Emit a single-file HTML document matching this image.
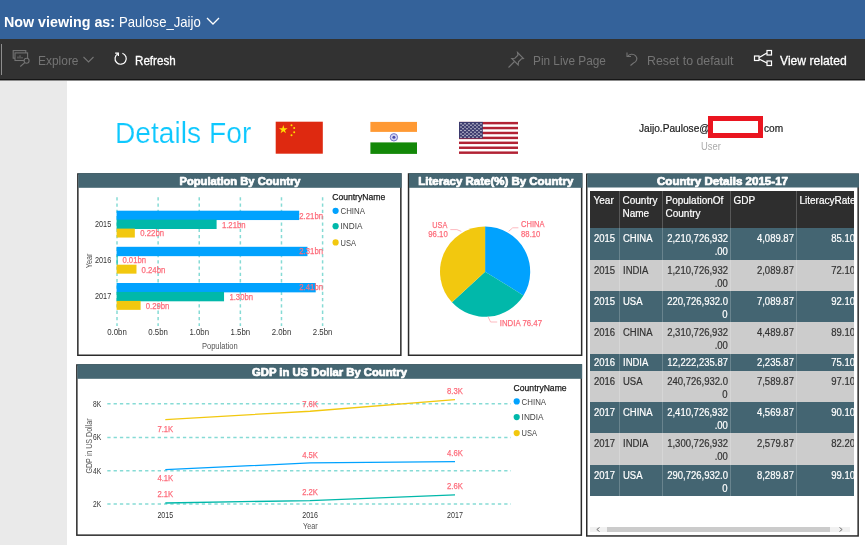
<!DOCTYPE html>
<html lang="en">
<head>
<meta charset="utf-8">
<title>Details For - Report</title>
<style>
*{box-sizing:border-box;margin:0;padding:0}
html,body{width:865px;height:545px;overflow:hidden;background:#fff;font-family:"Liberation Sans",sans-serif;}
.abs{position:absolute}
.sx{display:inline-block;transform-origin:0 50%;white-space:nowrap}
#top{left:0;top:0;width:865px;height:39px;background:#34629a;color:#fff}
#bar{left:0;top:39px;width:865px;height:42px;background:#323232;color:#fff;border-bottom:1px solid #8c8c8c;box-shadow:inset 0 -1px 0 #161616}
#side{left:0;top:81px;width:67px;height:464px;background:#eaeaea}
.tb{position:absolute;top:0;height:41px;line-height:43px;font-size:13.5px;white-space:nowrap;transform-origin:0 50%}
.dim{color:#747474}
svg text{font-family:"Liberation Sans",sans-serif}
table{border-collapse:collapse;position:absolute;left:590px;top:191px;font-size:10px;color:#fff;table-layout:fixed;width:264px;-webkit-text-stroke:.2px}
td,th{vertical-align:top;padding:3.5px 0 0 3.5px;line-height:13.4px;font-weight:normal;text-align:left;border:none;background-image:linear-gradient(rgba(255,255,255,.2),rgba(255,255,255,.2));background-size:1px 100%;background-repeat:no-repeat;overflow:hidden;white-space:nowrap}
td span,th span{display:inline-block;transform-origin:0 50%;transform:scaleX(.95)}
th span{transform:scaleX(1)}
td:first-child,th:first-child{background-image:none}
tr.h th{background-color:#2e2e2e;height:37px;padding-top:2.5px}
tr.d td{background-color:#446572;color:#fff}
tr.l td{background-color:#cccccc;color:#333}
td.r{text-align:right;padding:3.5px 2.5px 0 0}
td.r span{transform-origin:100% 50%}
td.e{padding-right:0}
td.e span{margin-right:-1px}
tr.s td{padding-top:2px}
</style>
</head>
<body>
<div id="top" class="abs">
 <div class="abs sx" style="left:4px;top:12.6px;font-size:14.2px;line-height:18px;font-weight:bold;transform:scaleX(1.006)">Now viewing as:</div>
 <div class="abs sx" style="left:119px;top:13px;font-size:14.2px;line-height:18px;transform:scaleX(.925)">Paulose_Jaijo</div>
 <svg class="abs" style="left:205px;top:15px" width="16" height="12" viewBox="0 0 16 12"><path d="M2 3 L8 9 L14 3" fill="none" stroke="#fff" stroke-width="1.3"/></svg>
</div>
<div id="bar" class="abs">
 <div class="abs" style="left:1px;top:5px;width:1px;height:31px;background:#8e8e8e"></div>
 <svg class="abs" style="left:10px;top:9px" width="20" height="20" viewBox="0 0 20 20" fill="none" stroke="#747474" stroke-width="1.1"><rect x="3.2" y="2.6" width="12.6" height="7.6"/><rect x="5" y="4.900" width="12.6" height="7.600" fill="#323232"/><path d="M8 10.500v-2M10 10.500v-3.200M12 10.500v-1.500" stroke-width="1"/><circle cx="16.600" cy="12.800" r="2.500" fill="#323232"/><path d="M14.800 14.700L10.300 18.500"/></svg>
 <div class="tb dim" style="left:38px;transform:scaleX(.885)">Explore</div>
 <svg class="abs" style="left:82px;top:16px" width="13" height="10" viewBox="0 0 13 10"><path d="M1.5 2 L6.5 7 L11.5 2" fill="none" stroke="#747474" stroke-width="1.1"/></svg>
 <svg class="abs" style="left:113px;top:12px" width="15" height="15" viewBox="0 0 16 16" fill="none" stroke="#fff" stroke-width="1.3"><path d="M5.2 2.9 A6 6 0 1 0 10 2.400"/><path d="M2.300 2.200 h3.400 v3.200"/></svg>
 <div class="tb" style="left:135px;transform:scaleX(.86);-webkit-text-stroke:.3px #fff">Refresh</div>
 <svg class="abs" style="left:507px;top:12px" width="18" height="18" viewBox="0 0 18 18" fill="none" stroke="#747474" stroke-width="1.1"><path d="M10.500 1.500l6 6-2 .3-3 3-.3 3.200-6.500-6.500 3.200-.3 3-3z"/><path d="M7.500 10.500l-6 6"/></svg>
 <div class="tb dim" style="left:532.5px;transform:scaleX(.875)">Pin Live Page</div>
 <svg class="abs" style="left:625px;top:12px" width="14" height="16" viewBox="0 0 14 16" fill="none" stroke="#747474" stroke-width="1.1"><path d="M2 1.500v4h4"/><path d="M2.500 5.500a5 4.500 0 1 1 6 6.500l-3 2.500"/></svg>
 <div class="tb dim" style="left:647px;transform:scaleX(.915)">Reset to default</div>
 <svg class="abs" style="left:753px;top:10px" width="20" height="20" viewBox="0 0 20 20" fill="none" stroke="#fff" stroke-width="1.2"><rect x="14" y="1.500" width="4.500" height="4.500"/><rect x="14" y="12" width="4.500" height="4.500"/><rect x="1.500" y="7" width="4.500" height="4.500"/><path d="M6 8.500l8-4.500M6 10l8 4"/></svg>
 <div class="tb" style="left:779.5px;transform:scaleX(.9);-webkit-text-stroke:.3px #fff">View related</div>
</div>
<div id="side" class="abs"></div>

<div class="abs sx" style="left:114.9px;top:115px;font-size:29px;line-height:36px;color:#0ec8fe;transform:scaleX(.972);-webkit-text-stroke:.2px #fff">Details For</div>

<!-- flags -->
<svg class="abs" style="left:275px;top:121px" width="49" height="34" viewBox="0 0 49 34"><rect x="0.7" y="0.7" width="47.1" height="32" fill="#de2910"/><polygon fill="#ffde00" points="8.30,4.00 9.33,7.18 12.67,7.18 9.97,9.14 11.00,12.32 8.30,10.36 5.60,12.32 6.63,9.14 3.93,7.18 7.27,7.18"/><g fill="#ffde00"><circle cx="16.5" cy="4.2" r="1"/><circle cx="19.2" cy="7" r="1"/><circle cx="19.2" cy="11.2" r="1"/><circle cx="16.500" cy="14.300" r="1"/></g></svg>
<svg class="abs" style="left:370px;top:121px" width="48" height="34" viewBox="0 0 48 34"><rect x="0.4" y="0.9" width="46.6" height="32" fill="#fff"/><rect x="0.4" y="0.9" width="46.6" height="10" fill="#ff9933"/><rect x="0.4" y="21.400" width="46.600" height="11.500" fill="#138808"/><circle cx="23.900" cy="16.300" r="3.700" fill="#d5d6f2" stroke="#6a6cc4" stroke-width="0.9"/><circle cx="23.900" cy="16.300" r="1.500" fill="#4a4cae"/></svg>
<svg class="abs" style="left:459px;top:121px" width="60" height="34" viewBox="0 0 60 34"><g transform="translate(0,0.9)"><rect width="59" height="32" fill="#fff"/><g fill="#b22234"><rect y="0" width="59" height="2.460"/><rect y="4.920" width="59" height="2.460"/><rect y="9.850" width="59" height="2.460"/><rect y="14.770" width="59" height="2.460"/><rect y="19.690" width="59" height="2.460"/><rect y="24.620" width="59" height="2.460"/><rect y="29.540" width="59" height="2.460"/></g><rect width="23.800" height="16.600" fill="#3c3b6e"/><g fill="#fff" opacity=".85"><circle cx="2.0" cy="1.75" r="0.75"/><circle cx="6.0" cy="1.75" r="0.75"/><circle cx="10.0" cy="1.75" r="0.75"/><circle cx="14.0" cy="1.75" r="0.75"/><circle cx="18.0" cy="1.75" r="0.75"/><circle cx="22.0" cy="1.75" r="0.75"/><circle cx="4.0" cy="3.46" r="0.75"/><circle cx="8.0" cy="3.46" r="0.75"/><circle cx="12.0" cy="3.46" r="0.75"/><circle cx="16.0" cy="3.46" r="0.75"/><circle cx="20.0" cy="3.46" r="0.75"/><circle cx="2.0" cy="5.17" r="0.75"/><circle cx="6.0" cy="5.17" r="0.75"/><circle cx="10.0" cy="5.17" r="0.75"/><circle cx="14.0" cy="5.17" r="0.75"/><circle cx="18.0" cy="5.17" r="0.75"/><circle cx="22.0" cy="5.17" r="0.75"/><circle cx="4.0" cy="6.88" r="0.75"/><circle cx="8.0" cy="6.88" r="0.75"/><circle cx="12.0" cy="6.88" r="0.75"/><circle cx="16.0" cy="6.88" r="0.75"/><circle cx="20.0" cy="6.88" r="0.75"/><circle cx="2.0" cy="8.59" r="0.75"/><circle cx="6.0" cy="8.59" r="0.75"/><circle cx="10.0" cy="8.59" r="0.75"/><circle cx="14.0" cy="8.59" r="0.75"/><circle cx="18.0" cy="8.59" r="0.75"/><circle cx="22.0" cy="8.59" r="0.75"/><circle cx="4.0" cy="10.30" r="0.75"/><circle cx="8.0" cy="10.30" r="0.75"/><circle cx="12.0" cy="10.30" r="0.75"/><circle cx="16.0" cy="10.30" r="0.75"/><circle cx="20.0" cy="10.30" r="0.75"/><circle cx="2.0" cy="12.01" r="0.75"/><circle cx="6.0" cy="12.01" r="0.75"/><circle cx="10.0" cy="12.01" r="0.75"/><circle cx="14.0" cy="12.01" r="0.75"/><circle cx="18.0" cy="12.01" r="0.75"/><circle cx="22.0" cy="12.01" r="0.75"/><circle cx="4.0" cy="13.72" r="0.75"/><circle cx="8.0" cy="13.72" r="0.75"/><circle cx="12.0" cy="13.72" r="0.75"/><circle cx="16.0" cy="13.72" r="0.75"/><circle cx="20.0" cy="13.72" r="0.75"/><circle cx="2.0" cy="15.43" r="0.75"/><circle cx="6.0" cy="15.43" r="0.75"/><circle cx="10.0" cy="15.43" r="0.75"/><circle cx="14.0" cy="15.43" r="0.75"/><circle cx="18.0" cy="15.43" r="0.75"/><circle cx="22.0" cy="15.43" r="0.75"/></g></g></svg>

<div class="abs sx" style="left:638.5px;top:120.5px;font-size:10.5px;line-height:14px;color:#1a1a1a;-webkit-text-stroke:.2px #1a1a1a;transform:scaleX(.965)">Jaijo.Paulose@</div>
<div class="abs sx" style="left:763.8px;top:120.5px;font-size:10.5px;line-height:14px;color:#1a1a1a;-webkit-text-stroke:.2px #1a1a1a;transform:scaleX(.965)">com</div>
<div class="abs" style="left:708px;top:116px;width:55px;height:22px;border:5px solid #ea1520;background:#fff"></div>
<div class="abs sx" style="left:701px;top:140px;font-size:10px;line-height:14px;color:#aaa;transform:scaleX(.94)">User</div>

<svg class="abs" style="left:0;top:0" width="865" height="545" viewBox="0 0 865 545">
<g>
<rect x="77.85" y="173.95" width="323" height="181.3" fill="#fff" stroke="#2b2b2b" stroke-width="1.5"/>
<rect x="78.3" y="173.2" width="323.3" height="14.6" fill="#456672"/>
<text x="240" y="184.9" font-size="10.2" font-weight="bold" fill="#fff" stroke="#fff" stroke-width="0.7" stroke-linejoin="round" text-anchor="middle" textLength="121" lengthAdjust="spacingAndGlyphs">Population By Country</text>
</g>
<g>
<rect x="408.55" y="173.95" width="173.1" height="181.3" fill="#fff" stroke="#2b2b2b" stroke-width="1.5"/>
<rect x="409" y="173.2" width="173.4" height="14.6" fill="#456672"/>
<text x="495.8" y="184.9" font-size="10.2" font-weight="bold" fill="#fff" stroke="#fff" stroke-width="0.7" stroke-linejoin="round" text-anchor="middle" textLength="155" lengthAdjust="spacingAndGlyphs">Literacy Rate(%) By Country</text>
</g>
<g>
<rect x="586.75" y="174.25" width="271.4" height="361.7" fill="#fff" stroke="#2b2b2b" stroke-width="1.5"/>
<rect x="587.2" y="173.5" width="271.7" height="14" fill="#456672"/>
<text x="722.5" y="184.6" font-size="10.2" font-weight="bold" fill="#fff" stroke="#fff" stroke-width="0.7" stroke-linejoin="round" text-anchor="middle" textLength="131" lengthAdjust="spacingAndGlyphs">Country Details 2015-17</text>
</g>
<g>
<rect x="76.85" y="364.95" width="504.5" height="170.2" fill="#fff" stroke="#2b2b2b" stroke-width="1.5"/>
<rect x="77.3" y="364.2" width="504.8" height="14.6" fill="#456672"/>
<text x="329.5" y="375.9" font-size="10.2" font-weight="bold" fill="#fff" stroke="#fff" stroke-width="0.7" stroke-linejoin="round" text-anchor="middle" textLength="155" lengthAdjust="spacingAndGlyphs">GDP in US Dollar By Country</text>
</g>
<g stroke="#86dbd5" stroke-width="1.5" stroke-dasharray="3.3 3" fill="none"><path d="M117 197.2V326M158.12 197.2V326M199.24 197.2V326M240.36 197.2V326M281.48 197.2V326M322.6 197.2V326"/></g>
<g>
<rect x="116.6" y="210.7" width="182.6" height="9.35" fill="#01a2fe"/>
<rect x="116.6" y="219.65" width="100" height="9.35" fill="#01b8aa"/>
<rect x="116.6" y="228.6" width="18.23" height="8.95" fill="#f2c80f"/>
<rect x="116.6" y="246.8" width="190.86" height="9.35" fill="#01a2fe"/>
<rect x="116.6" y="255.75" width="1.01" height="9.35" fill="#01b8aa"/>
<rect x="116.6" y="264.7" width="19.88" height="8.95" fill="#f2c80f"/>
<rect x="116.6" y="283" width="199.12" height="9.35" fill="#01a2fe"/>
<rect x="116.6" y="291.95" width="107.44" height="9.35" fill="#01b8aa"/>
<rect x="116.6" y="300.9" width="24.01" height="8.95" fill="#f2c80f"/>
</g>
<g fill="#fd6b7a">
<text x="299.3" y="218.9" font-size="9.3" textLength="23.7" lengthAdjust="spacingAndGlyphs" stroke="#fd6b7a" stroke-width="0.25">2.21bn</text>
<text x="221.9" y="227.7" font-size="9.3" textLength="23.7" lengthAdjust="spacingAndGlyphs" stroke="#fd6b7a" stroke-width="0.25">1.21bn</text>
<text x="140.3" y="236.1" font-size="9.3" textLength="23.7" lengthAdjust="spacingAndGlyphs" stroke="#fd6b7a" stroke-width="0.25">0.22bn</text>
<text x="299.3" y="254.2" font-size="9.3" textLength="23.7" lengthAdjust="spacingAndGlyphs" stroke="#fd6b7a" stroke-width="0.25">2.31bn</text>
<text x="122.4" y="263.4" font-size="9.3" textLength="23.7" lengthAdjust="spacingAndGlyphs" stroke="#fd6b7a" stroke-width="0.25">0.01bn</text>
<text x="141.6" y="272.6" font-size="9.3" textLength="23.7" lengthAdjust="spacingAndGlyphs" stroke="#fd6b7a" stroke-width="0.25">0.24bn</text>
<text x="299.3" y="290.4" font-size="9.3" textLength="23.7" lengthAdjust="spacingAndGlyphs" stroke="#fd6b7a" stroke-width="0.25">2.41bn</text>
<text x="229.4" y="299.6" font-size="9.3" textLength="23.7" lengthAdjust="spacingAndGlyphs" stroke="#fd6b7a" stroke-width="0.25">1.30bn</text>
<text x="145.7" y="308.8" font-size="9.3" textLength="23.7" lengthAdjust="spacingAndGlyphs" stroke="#fd6b7a" stroke-width="0.25">0.29bn</text>
</g>
<g fill="#333">
<text x="111.2" y="227.1" font-size="8.3" text-anchor="end" textLength="16.2" lengthAdjust="spacingAndGlyphs">2015</text>
<text x="111.2" y="263" font-size="8.3" text-anchor="end" textLength="16.2" lengthAdjust="spacingAndGlyphs">2016</text>
<text x="111.2" y="299.1" font-size="8.3" text-anchor="end" textLength="16.2" lengthAdjust="spacingAndGlyphs">2017</text>
<text x="117" y="334.9" font-size="8.3" text-anchor="middle" textLength="19.6" lengthAdjust="spacingAndGlyphs">0.0bn</text>
<text x="158.12" y="334.9" font-size="8.3" text-anchor="middle" textLength="19.6" lengthAdjust="spacingAndGlyphs">0.5bn</text>
<text x="199.24" y="334.9" font-size="8.3" text-anchor="middle" textLength="19.6" lengthAdjust="spacingAndGlyphs">1.0bn</text>
<text x="240.36" y="334.9" font-size="8.3" text-anchor="middle" textLength="19.6" lengthAdjust="spacingAndGlyphs">1.5bn</text>
<text x="281.48" y="334.9" font-size="8.3" text-anchor="middle" textLength="19.6" lengthAdjust="spacingAndGlyphs">2.0bn</text>
<text x="322.6" y="334.9" font-size="8.3" text-anchor="middle" textLength="19.6" lengthAdjust="spacingAndGlyphs">2.5bn</text>
<text x="219.8" y="349" font-size="8.3" fill="#555" text-anchor="middle" textLength="35.8" lengthAdjust="spacingAndGlyphs">Population</text>
<text transform="translate(92,260.9) rotate(-90)" font-size="8.3" fill="#555" text-anchor="middle" textLength="14.6" lengthAdjust="spacingAndGlyphs">Year</text>
</g>
<g fill="#444">
<text x="332.2" y="200.1" font-size="9" fill="#1a1a1a" textLength="53" lengthAdjust="spacingAndGlyphs" stroke="#1a1a1a" stroke-width="0.25">CountryName</text>
<circle cx="335.6" cy="210.8" r="3.1" fill="#01a2fe"/>
<text x="340.5" y="213.9" font-size="8.8" textLength="24.5" lengthAdjust="spacingAndGlyphs">CHINA</text>
<circle cx="335.6" cy="226.2" r="3.1" fill="#01b8aa"/>
<text x="340.5" y="229.3" font-size="8.8" textLength="22" lengthAdjust="spacingAndGlyphs">INDIA</text>
<circle cx="335.6" cy="242.4" r="3.1" fill="#f2c80f"/>
<text x="340.5" y="245.5" font-size="8.8" textLength="15.4" lengthAdjust="spacingAndGlyphs">USA</text>
</g>
<g>
<path d="M485.1 271.7L485.1 226.6A45.1 45.1 0 0 1 523.48 295.38Z" fill="#01a2fe"/>
<path d="M485.1 271.7L523.48 295.38A45.1 45.1 0 0 1 451.97 302.3Z" fill="#01b8aa"/>
<path d="M485.1 271.7L451.97 302.3A45.1 45.1 0 0 1 485.1 226.6Z" fill="#f2c80f"/>
<path d="M508.6 231.4L512.7 227.8H518.4M461.3 231.4L456.9 229.6H450.3M488 316.6L490.6 322H497.2" fill="none" stroke="#fdb9bf" stroke-width="1"/>
</g>
<g fill="#fd6b7a" stroke="#fd6b7a" stroke-width="0.25">
<text x="521.1" y="227.3" font-size="9.2" textLength="23.5" lengthAdjust="spacingAndGlyphs">CHINA</text>
<text x="521.1" y="236.5" font-size="9.2" textLength="19.2" lengthAdjust="spacingAndGlyphs">88.10</text>
<text x="447.3" y="228" font-size="9.2" text-anchor="end" textLength="15" lengthAdjust="spacingAndGlyphs">USA</text>
<text x="447.7" y="237.2" font-size="9.2" text-anchor="end" textLength="19.4" lengthAdjust="spacingAndGlyphs">96.10</text>
<text x="499.8" y="326.4" font-size="9.2" textLength="42.2" lengthAdjust="spacingAndGlyphs">INDIA 76.47</text>
</g>
<g stroke="#86dbd5" stroke-width="1.5" stroke-dasharray="3.3 3" fill="none"><path d="M107.3 403.8H511M107.3 437.5H511M107.3 470.8H511M107.3 503.9H511"/></g>
<g fill="none" stroke-width="1.3" stroke-linejoin="round">
<path d="M165.3 419.58L310.1 411.23L455 399.55" stroke="#f2c80f"/>
<path d="M165.3 469.63L310.1 462.96L455 461.62" stroke="#01a2fe"/>
<path d="M165.3 503L310.1 500.56L455 494.82" stroke="#01b8aa"/>
</g>
<g fill="#fd6b7a" text-anchor="middle">
<text x="165.3" y="431.5" font-size="9.3" textLength="15.8" lengthAdjust="spacingAndGlyphs" stroke="#fd6b7a" stroke-width="0.25">7.1K</text>
<text x="310.1" y="406.7" font-size="9.3" textLength="15.8" lengthAdjust="spacingAndGlyphs" stroke="#fd6b7a" stroke-width="0.25">7.6K</text>
<text x="455" y="393.9" font-size="9.3" textLength="15.8" lengthAdjust="spacingAndGlyphs" stroke="#fd6b7a" stroke-width="0.25">8.3K</text>
<text x="165.3" y="480.9" font-size="9.3" textLength="15.8" lengthAdjust="spacingAndGlyphs" stroke="#fd6b7a" stroke-width="0.25">4.1K</text>
<text x="310.1" y="458.1" font-size="9.3" textLength="15.8" lengthAdjust="spacingAndGlyphs" stroke="#fd6b7a" stroke-width="0.25">4.5K</text>
<text x="455" y="456.2" font-size="9.3" textLength="15.8" lengthAdjust="spacingAndGlyphs" stroke="#fd6b7a" stroke-width="0.25">4.6K</text>
<text x="165.3" y="497.4" font-size="9.3" textLength="15.8" lengthAdjust="spacingAndGlyphs" stroke="#fd6b7a" stroke-width="0.25">2.1K</text>
<text x="310.1" y="495.3" font-size="9.3" textLength="15.8" lengthAdjust="spacingAndGlyphs" stroke="#fd6b7a" stroke-width="0.25">2.2K</text>
<text x="455" y="489" font-size="9.3" textLength="15.8" lengthAdjust="spacingAndGlyphs" stroke="#fd6b7a" stroke-width="0.25">2.6K</text>
</g>
<g fill="#333">
<text x="101.3" y="406.8" font-size="8.3" text-anchor="end" textLength="8.2" lengthAdjust="spacingAndGlyphs">8K</text>
<text x="101.3" y="440.2" font-size="8.3" text-anchor="end" textLength="8.2" lengthAdjust="spacingAndGlyphs">6K</text>
<text x="101.3" y="473.6" font-size="8.3" text-anchor="end" textLength="8.2" lengthAdjust="spacingAndGlyphs">4K</text>
<text x="101.3" y="506.9" font-size="8.3" text-anchor="end" textLength="8.2" lengthAdjust="spacingAndGlyphs">2K</text>
<text x="165.3" y="518.4" font-size="8.3" text-anchor="middle" textLength="15.8" lengthAdjust="spacingAndGlyphs">2015</text>
<text x="310.1" y="518.4" font-size="8.3" text-anchor="middle" textLength="15.8" lengthAdjust="spacingAndGlyphs">2016</text>
<text x="455" y="518.4" font-size="8.3" text-anchor="middle" textLength="15.8" lengthAdjust="spacingAndGlyphs">2017</text>
<text x="310.4" y="528.5" font-size="8.3" fill="#555" text-anchor="middle" textLength="14.7" lengthAdjust="spacingAndGlyphs">Year</text>
<text transform="translate(91.6,446) rotate(-90)" font-size="8.3" fill="#555" text-anchor="middle" textLength="55.1" lengthAdjust="spacingAndGlyphs">GDP in US Dollar</text>
</g>
<g fill="#444">
<text x="513.6" y="390.9" font-size="9" fill="#1a1a1a" textLength="53" lengthAdjust="spacingAndGlyphs" stroke="#1a1a1a" stroke-width="0.25">CountryName</text>
<circle cx="516.7" cy="401.4" r="3.1" fill="#01a2fe"/>
<text x="521.6" y="404.5" font-size="8.8" textLength="24.5" lengthAdjust="spacingAndGlyphs">CHINA</text>
<circle cx="516.7" cy="417.1" r="3.1" fill="#01b8aa"/>
<text x="521.6" y="420.2" font-size="8.8" textLength="22" lengthAdjust="spacingAndGlyphs">INDIA</text>
<circle cx="516.7" cy="433.1" r="3.1" fill="#f2c80f"/>
<text x="521.6" y="436.2" font-size="8.8" textLength="15.4" lengthAdjust="spacingAndGlyphs">USA</text>
</g>
</svg>

<table>
<colgroup><col style="width:29px"><col style="width:43px"><col style="width:68px"><col style="width:66px"><col style="width:58px"></colgroup>
<tr class="h"><th><span>Year</span></th><th><span>Country</span><br><span>Name</span></th><th><span>PopulationOf</span><br><span>Country</span></th><th><span>GDP</span></th><th><span>LiteracyRate</span></th></tr>
<tr class="d" style="height:32px"><td><span>2015</span></td><td><span>CHINA</span></td><td class="r"><span>2,210,726,932</span><br><span>.00</span></td><td class="r"><span>4,089.87</span></td><td class="r e"><span>85.10</span></td></tr>
<tr class="l" style="height:31px"><td><span>2015</span></td><td><span>INDIA</span></td><td class="r"><span>1,210,726,932</span><br><span>.00</span></td><td class="r"><span>2,089.87</span></td><td class="r e"><span>72.10</span></td></tr>
<tr class="d" style="height:31px"><td><span>2015</span></td><td><span>USA</span></td><td class="r"><span>220,726,932.0</span><br><span>0</span></td><td class="r"><span>7,089.87</span></td><td class="r e"><span>92.10</span></td></tr>
<tr class="l" style="height:32px"><td><span>2016</span></td><td><span>CHINA</span></td><td class="r"><span>2,310,726,932</span><br><span>.00</span></td><td class="r"><span>4,489.87</span></td><td class="r e"><span>89.10</span></td></tr>
<tr class="d s" style="height:17px"><td><span>2016</span></td><td><span>INDIA</span></td><td class="r"><span>12,222,235.87</span></td><td class="r"><span>2,235.87</span></td><td class="r e"><span>75.10</span></td></tr>
<tr class="l" style="height:31px"><td><span>2016</span></td><td><span>USA</span></td><td class="r"><span>240,726,932.0</span><br><span>0</span></td><td class="r"><span>7,589.87</span></td><td class="r e"><span>97.10</span></td></tr>
<tr class="d" style="height:31px"><td><span>2017</span></td><td><span>CHINA</span></td><td class="r"><span>2,410,726,932</span><br><span>.00</span></td><td class="r"><span>4,569.87</span></td><td class="r e"><span>90.10</span></td></tr>
<tr class="l" style="height:32px"><td><span>2017</span></td><td><span>INDIA</span></td><td class="r"><span>1,300,726,932</span><br><span>.00</span></td><td class="r"><span>2,579.87</span></td><td class="r e"><span>82.20</span></td></tr>
<tr class="d" style="height:31px"><td><span>2017</span></td><td><span>USA</span></td><td class="r"><span>290,726,932.0</span><br><span>0</span></td><td class="r"><span>8,289.87</span></td><td class="r e"><span>99.10</span></td></tr>
</table>
<div class="abs" style="left:590px;top:527px;width:260px;height:5px;background:#f1f1f1"></div>
<div class="abs" style="left:607px;top:527px;width:223px;height:5px;background:#cbcbcb"></div>
<svg class="abs" style="left:594px;top:525px" width="8" height="9" viewBox="0 0 8 9"><path d="M5.500 2.500L2.800 4.500L5.500 6.500" fill="none" stroke="#666" stroke-width="0.9"/></svg>
<svg class="abs" style="left:837px;top:525px" width="8" height="9" viewBox="0 0 8 9"><path d="M2.500 2.500L5.200 4.500L2.500 6.500" fill="none" stroke="#666" stroke-width="0.9"/></svg>
</body>
</html>
